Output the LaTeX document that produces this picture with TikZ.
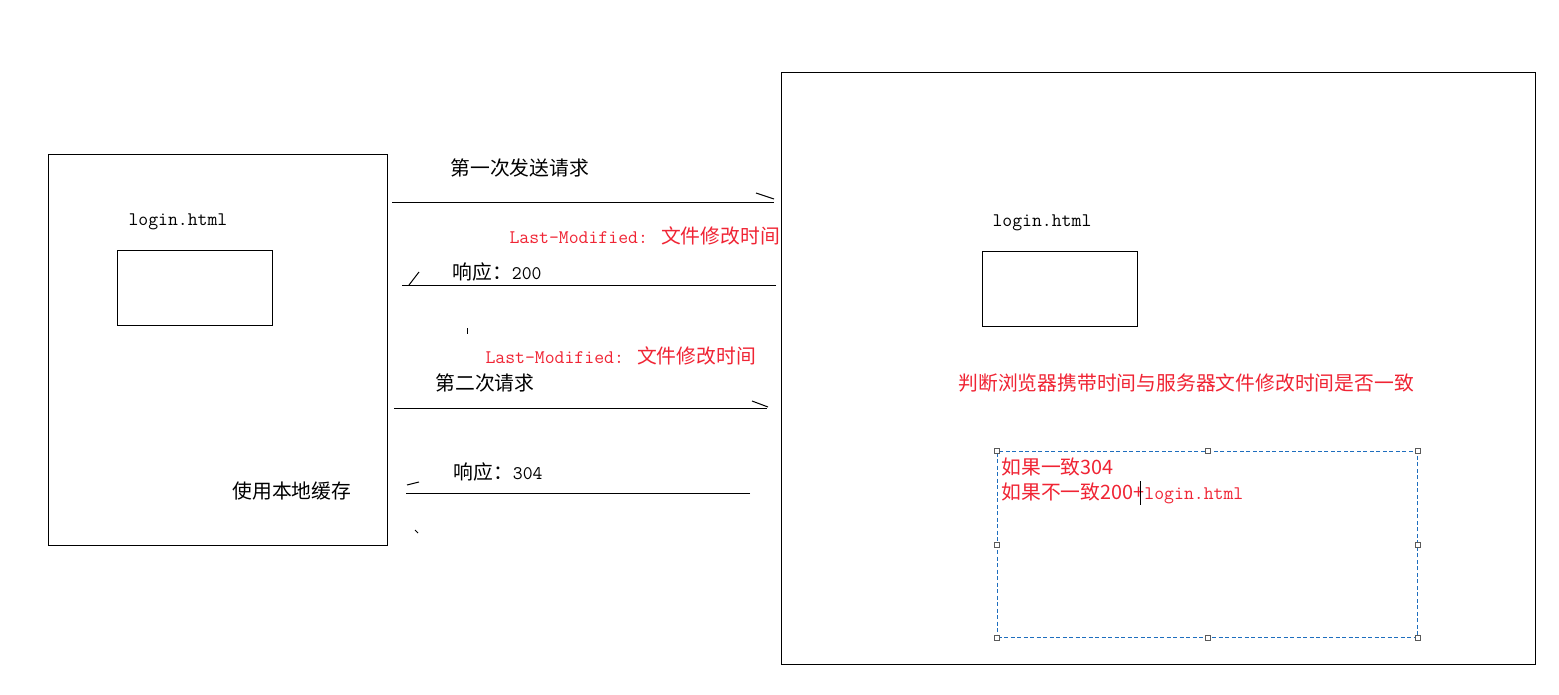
\documentclass[tikz,border=0pt]{standalone}
\usepackage{fontspec}
\newfontfamily\cjkfam{Noto Sans CJK SC}
\newcommand\zh{\cjkfam\fontsize{19.8}{22}\selectfont}
\newcommand\en{\ttfamily\fontsize{19.2}{22}\selectfont}
\definecolor{redtxt}{RGB}{240,36,52}
\definecolor{selblue}{RGB}{30,110,190}
\definecolor{handle}{RGB}{90,90,90}
\begin{document}
\begin{tikzpicture}[x=1pt,y=-1pt,line width=1pt,
  frame/.style={draw=black,line width=1pt},
  lbl/.style={inner sep=0pt,anchor=west,text=black},
  rlbl/.style={inner sep=0pt,anchor=west,text=redtxt},
  msg/.style={draw=black,line width=1pt},
  hnd/.style={draw=handle,fill=white,line width=0.8pt,minimum size=5pt,inner sep=0pt}]
\useasboundingbox[fill=white] (0,0) rectangle (1559,695);

% boxes
\node[frame,anchor=north west,minimum width=339pt,minimum height=391pt,inner sep=0] (client) at (48,154) {};
\node[frame,anchor=north west,minimum width=155pt,minimum height=75pt,inner sep=0] (cpage) at (117,250) {};
\node[frame,anchor=north west,minimum width=754pt,minimum height=592pt,inner sep=0] (server) at (781,72) {};
\node[frame,anchor=north west,minimum width=155pt,minimum height=75pt,inner sep=0] (spage) at (982,251) {};

% labels
\node[lbl] (clogin) at (128,222) {\en login.html};
\node[lbl] (slogin) at (992,223) {\en login.html};
\node[lbl] (t1) at (450,168) {\zh 第一次发送请求};
\node[rlbl] (lm1) at (509,236) {\en Last-Modified: \zh 文件修改时间};
\node[lbl] (r200) at (452,272) {\zh 响应：\en 200};
\node[rlbl] (lm2) at (485,356) {\en Last-Modified: \zh 文件修改时间};
\node[lbl] (t2) at (435,383) {\zh 第二次请求};
\node[lbl] (r304) at (453,472) {\zh 响应：\en 304};
\node[lbl] (cache) at (232,491) {\zh 使用本地缓存};
\node[rlbl] (judge) at (958,383) {\zh 判断浏览器携带时间与服务器文件修改时间是否一致};

% connectors
\coordinate (a1s) at (392,203); \coordinate (a1e) at (774,203);
\coordinate (h1a) at (756,193); \coordinate (h1b) at (774,199);
\draw[msg] (a1s) -- (a1e);
\draw[msg] (h1a) -- (h1b);

\coordinate (a2s) at (776,286); \coordinate (a2e) at (402,286);
\coordinate (h2a) at (409,285); \coordinate (h2b) at (419,272);
\draw[msg] (a2s) -- (a2e);
\draw[msg] (h2a) -- (h2b);

\coordinate (a3s) at (394,408); \coordinate (a3e) at (767,408);
\coordinate (h3a) at (752,401); \coordinate (h3b) at (768,407);
\draw[msg] (a3s) -- (a3e);
\draw[msg] (h3a) -- (h3b);

\coordinate (a4s) at (750,493); \coordinate (a4e) at (406,493);
\coordinate (h4a) at (407,485); \coordinate (h4b) at (419,482);
\draw[msg] (a4s) -- (a4e);
\draw[msg] (h4a) -- (h4b);

% stray ticks
\coordinate (k1a) at (467,328); \coordinate (k1b) at (467,334);
\draw[msg] (k1a) -- (k1b);
\coordinate (k2a) at (415,530); \coordinate (k2b) at (418,533);
\draw[msg] (k2a) -- (k2b);

% selected text box
\node[draw=selblue,dash pattern=on 4pt off 2.5pt,line width=1pt,anchor=north west,minimum width=420pt,minimum height=186pt,inner sep=0] (sel) at (997,451) {};
\foreach \p [count=\i] in {north west,north,north east,west,east,south west,south,south east}
  \node[hnd] (h\i) at (sel.\p) {};
\node[rlbl] (if1) at (1001,467) {\zh 如果一致304};
\node[rlbl] (if2) at (1001,493) {\zh 如果不一致200+\en login.html};
\coordinate (cur1) at (1140,481); \coordinate (cur2) at (1140,505);
\draw[black,line width=1pt] (cur1) -- (cur2);
\end{tikzpicture}
\end{document}
